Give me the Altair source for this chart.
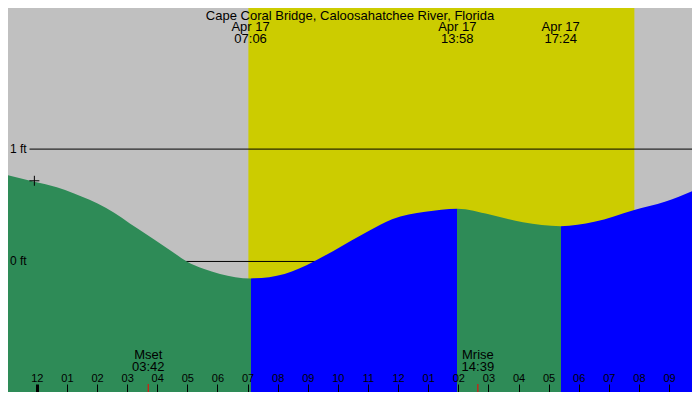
import altair as alt
import pandas as pd

W, H = 684, 384
FONT = "Liberation Sans"

# x domain in hours after midnight of Apr 17, y domain in feet
x_domain = [-0.957, 21.762]
y_domain = [-1.162, 2.256]

# water level curve (hours, ft)
hours = [-0.957, -0.081, 0.665, 1.217, 2.288, 3.359, 4.463, 4.982, 5.534, 6.086,
         7.1, 8.228, 9.202, 9.851, 11.052, 11.799, 12.902, 13.967, 15.044, 16.147,
         17.4, 18.517, 19.815, 20.886, 21.762]
levels = [0.767, 0.709, 0.660, 0.607, 0.479, 0.291, 0.094, 0.0, -0.066, -0.111,
          -0.151, -0.111, 0.0, 0.094, 0.276, 0.376, 0.442, 0.470, 0.419, 0.348,
          0.314, 0.353, 0.456, 0.533, 0.624]

# tide turning points (low, high, low)
tide_times = [7.1, 13.967, 17.4]
tide_labels = ["Apr 17\n07:06", "Apr 17\n13:58", "Apr 17\n17:24"]

# daylight
sunrise = [7.027]
sunset = [19.848]

# moon events
moon_times = [3.7, 14.65]
moon_labels = ["Mset\n03:42", "Mrise\n14:39"]

# reference levels
grid_levels = [0, 1]
grid_labels = ["0 ft", "1 ft"]

# current position marker
now_hour = [-0.081]
now_level = [0.718]

tick_hours = [0, 1, 2, 3, 4, 5, 6, 7, 8, 9, 10, 11, 12, 13, 14, 15, 16, 17, 18, 19, 20, 21]
title_text = "Cape Coral Bridge, Caloosahatchee River, Florida"

GRAY = "#C0C0C0"
YELLOW = "#CCCC00"
GREEN = "#2E8B57"
BLUE = "#0000FF"

curve = pd.DataFrame({"h": hours, "ft": levels})
day = pd.DataFrame({"h": sunrise, "h2": sunset})
grid = pd.DataFrame({"ft": grid_levels, "label": grid_labels})
tides = pd.DataFrame({"h": tide_times, "label": tide_labels})
moon = pd.DataFrame({"h": moon_times, "label": moon_labels})
now = pd.DataFrame({"h": now_hour, "ft": now_level})
ttl = pd.DataFrame({"label": [title_text]})

xscale = alt.Scale(domain=x_domain, nice=False, zero=False)
yscale = alt.Scale(domain=y_domain, nice=False, zero=False)

xaxis = alt.Axis(
    orient="top", offset=-H, values=tick_hours, title=None, domain=False, grid=False,
    tickSize=8, tickColor="black",
    tickWidth={"condition": {"test": "datum.value % 24 == 0", "value": 3}, "value": 1},
    labelFont=FONT, labelFontSize=11, labelColor="black",
    labelBaseline="alphabetic", labelPadding=2.5,
    labelExpr="datum.value % 12 == 0 ? '12' : (datum.value % 12 < 10 ? '0' + (datum.value % 12) : '' + (datum.value % 12))",
    labelFlush=False, labelOverlap=False, zindex=1,
)

def X(field="h"):
    return alt.X(f"{field}:Q", scale=xscale, axis=xaxis)

def Y(field="ft"):
    return alt.Y(f"{field}:Q", scale=yscale, axis=None)

# gradient stops at tide turning points (falling = green, rising = blue)
span = hours[-1] - hours[0]
offs = [(t - hours[0]) / span for t in tide_times]
stops = [
    {"offset": 0, "color": GREEN}, {"offset": offs[0], "color": GREEN},
    {"offset": offs[0], "color": BLUE}, {"offset": offs[1], "color": BLUE},
    {"offset": offs[1], "color": GREEN}, {"offset": offs[2], "color": GREEN},
    {"offset": offs[2], "color": BLUE}, {"offset": 1, "color": BLUE},
]
grad = {"gradient": "linear", "x1": 0, "x2": 1, "y1": 0, "y2": 0, "stops": stops}

daylight = alt.Chart(day).mark_rect(color=YELLOW).encode(
    x=X(), x2="h2:Q", y=alt.value(0), y2=alt.value(H)
)

rules = alt.Chart(grid).mark_rule(color="black", strokeWidth=1).encode(
    y=Y(), x=alt.value(21.5), x2=alt.value(W)
)

water = alt.Chart(curve).mark_area(interpolate="monotone", color=grad).encode(
    x=X(), y=Y(), y2=alt.datum(y_domain[0])
)

moon_ticks = alt.Chart(moon).mark_rule(color="red", strokeWidth=1).encode(
    x=X(), y=alt.value(H - 8), y2=alt.value(H)
)

marker = alt.Chart(now).mark_point(
    shape="M-1,0L1,0M0,-1L0,1", size=100, filled=False, color="black", strokeWidth=1, opacity=1
).encode(x=X(), y=Y())

grid_text = alt.Chart(grid).mark_text(
    align="left", baseline="middle", font=FONT, fontSize=12, color="black"
).encode(y=Y(), x=alt.value(2), text="label:N")

tide_text = alt.Chart(tides).mark_text(
    align="center", baseline="top", lineBreak="\n", lineHeight=12, font=FONT, fontSize=13, color="black"
).encode(x=X(), y=alt.value(13), text="label:N")

moon_text = alt.Chart(moon).mark_text(
    align="center", baseline="top", lineBreak="\n", lineHeight=12, font=FONT, fontSize=13, color="black"
).encode(x=X(), y=alt.value(H - 43), text="label:N")

title = alt.Chart(ttl).mark_text(
    align="center", baseline="top", font=FONT, fontSize=13, color="black"
).encode(x=alt.value(W / 2), y=alt.value(1.5), text="label:N")

chart = alt.layer(
    daylight, rules, water, moon_ticks, marker, grid_text, tide_text, moon_text, title
).properties(
    width=W, height=H, background=GRAY, padding=0,
    autosize=alt.AutoSizeParams(type="none"),
).configure_view(stroke=None)

chart.save("out.html", embed_options={"renderer": "svg", "actions": False})
